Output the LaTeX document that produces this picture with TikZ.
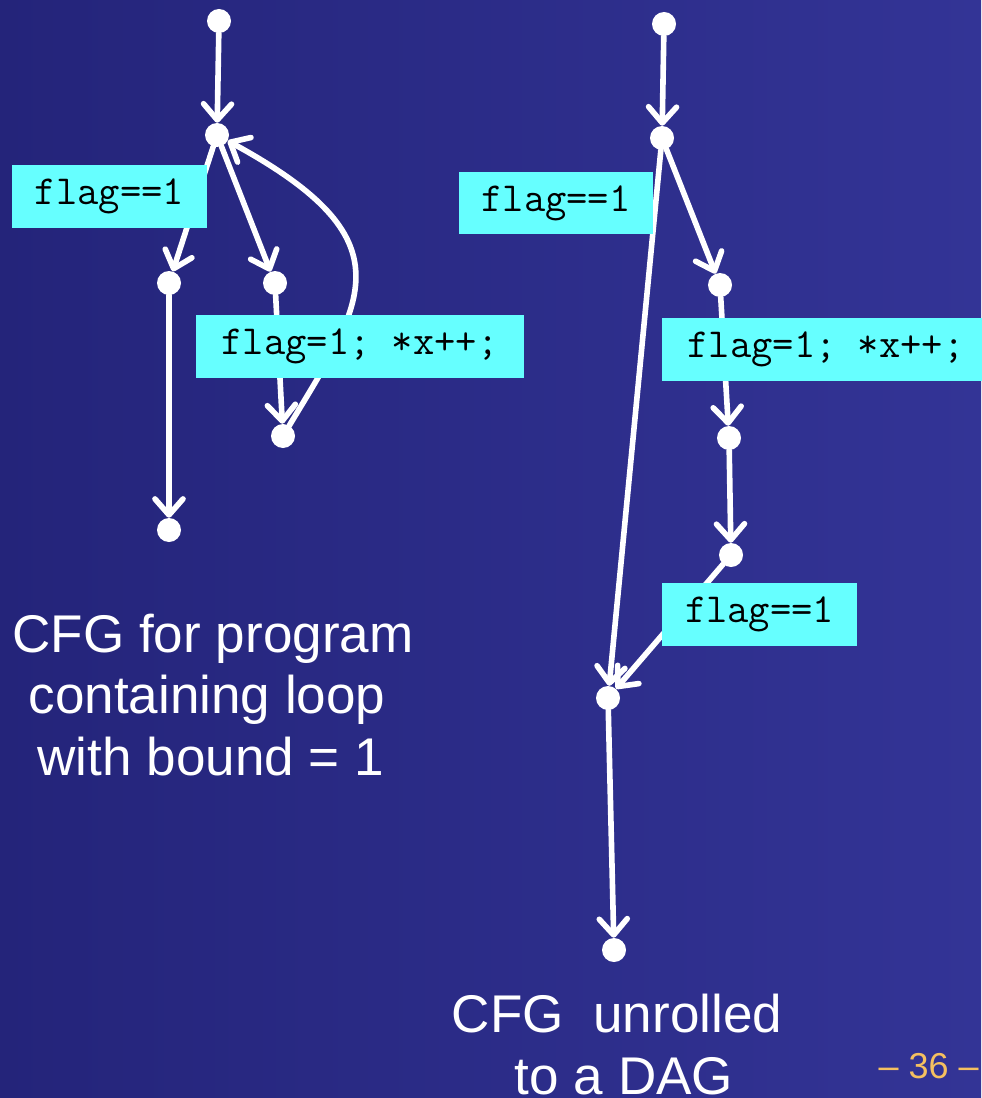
\documentclass[tikz,border=0pt]{standalone}
\usepackage{fontspec}
\setmainfont{Liberation Sans}
\usetikzlibrary{arrows.meta}
\definecolor{bgleft}{RGB}{36,36,122}
\definecolor{bgright}{RGB}{51,52,150}
\definecolor{boxcyan}{RGB}{102,255,255}
\definecolor{pagenum}{RGB}{245,192,96}

\begin{document}
\begin{tikzpicture}[x=0.75pt,y=-0.75pt,
  vertex/.style={circle,fill=white,inner sep=0pt,minimum size=18pt},
  flow/.style={draw=white,line width=4.2pt,line cap=round,line join=round,
    -{Straight Barb[length=12pt,width=21pt,line cap=round,line join=round]}},
  cbox/.style={fill=boxcyan,inner sep=0pt,minimum height=47pt,
    font=\ttfamily\fontsize{31}{31}\selectfont,text=black},
  caption/.style={text=white,anchor=base,inner sep=0pt,font=\fontsize{39.8}{46}\selectfont}]

% slide background
\shade[left color=bgleft,right color=bgright] (0,0) rectangle (981,1098);
\useasboundingbox (0,0) rectangle (981,1098);

% ---- CFG with loop ----
\node[vertex] (a1) at (219,21) {};
\node[vertex] (a2) at (217,135) {};
\node[vertex] (a3) at (169,283) {};
\node[vertex] (a4) at (275,283) {};
\node[vertex] (a5) at (283,436) {};
\node[vertex] (a6) at (169,530) {};

\draw[flow] (a1) -- (a2);
\draw[flow] (a2) -- (a3);
\draw[flow] (a2) -- (a4);
\draw[flow] (a4) -- (a5);
\draw[flow] (a3) -- (a6);
\draw[flow] (a5) .. controls (365,300) and (410,240) .. (a2);

\node[cbox,minimum width=146pt] (la) at (109.5,196.5) {flag==1};
\node[cbox,minimum width=246pt] (lb) at (360,346.5) {flag=1; *x++;};

% ---- unrolled DAG ----
\node[vertex] (b1) at (664,24) {};
\node[vertex] (b2) at (662,138) {};
\node[vertex] (b3) at (720,285) {};
\node[vertex] (b4) at (729,438) {};
\node[vertex] (b5) at (731,555) {};
\node[vertex] (b6) at (608,698) {};
\node[vertex] (b7) at (614,950) {};

\draw[flow] (b1) -- (b2);
\draw[flow] (b2) -- (b6);
\draw[flow] (b2) -- (b3);
\draw[flow] (b3) -- (b4);
\draw[flow] (b4) -- (b5);
\draw[flow] (b5) -- (b6);
\draw[flow] (b6) -- (b7);

\node[cbox,minimum width=145.5pt] (ra) at (556,203) {flag==1};
\node[cbox,minimum width=246pt] (rb) at (826,349.5) {flag=1; *x++;};
\node[cbox,minimum width=146pt] (rc) at (759.5,614.5) {flag==1};

% ---- captions ----
\node[caption] (c1) at (213,652) {CFG for program};
\node[caption] (c2) at (207,713) {containing loop};
\node[caption] (c3) at (211,775) {with bound = 1};
\node[caption] (d1) at (617,1032) {CFG\ \ unrolled};
\node[caption] (d2) at (624,1094) {to a DAG};

\node[anchor=base east,inner sep=0pt,text=pagenum,font=\fontsize{27}{27}\selectfont]
  (pg) at (979,1078) {– 36 –};
\end{tikzpicture}
\end{document}
